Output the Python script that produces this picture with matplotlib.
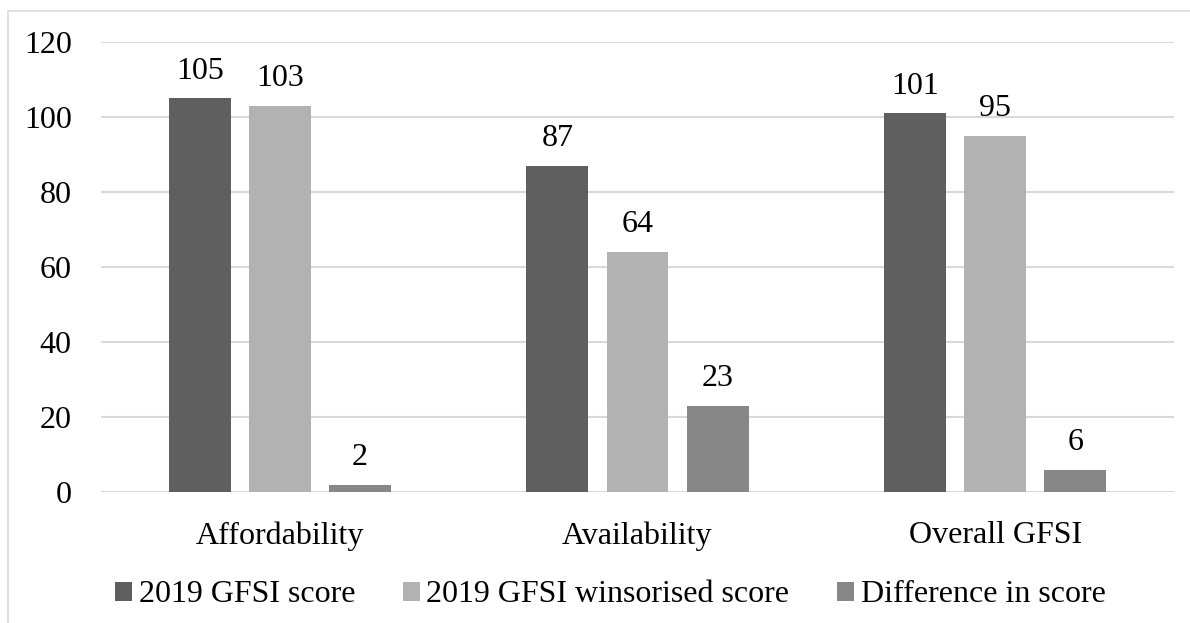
import matplotlib
matplotlib.use("Agg")
import matplotlib.pyplot as plt
import numpy as np
from matplotlib.patches import Rectangle, Patch

plt.rcParams['font.family'] = ['Liberation Serif', 'DejaVu Serif']

categories = ["Affordability", "Availability", "Overall GFSI"]
series_names = ["2019 GFSI score", "2019 GFSI winsorised score", "Difference in score"]
gfsi_score = [105, 87, 101]
winsorised_score = [103, 64, 95]
difference = [2, 23, 6]
y_ticks = [0, 20, 40, 60, 80, 100, 120]

colors = ["#5f5f5f", "#b2b2b2", "#878787"]
values = [gfsi_score, winsorised_score, difference]

fig = plt.figure(figsize=(11.9, 6.23), dpi=100)
ax = fig.add_axes([101 / 1190, 1 - 492 / 623, (1174 - 101) / 1190, (492 - 42) / 623])

x = np.arange(len(categories))
width = 0.173
offsets = [-0.224, 0.0, 0.224]
fs = 23

for vals, off, col in zip(values, offsets, colors):
    bars = ax.bar(x + off, vals, width=width, color=col, zorder=3)
    for b, v in zip(bars, vals):
        ax.annotate(str(v), (b.get_x() + b.get_width() / 2, v),
                    xytext=(0, 9), textcoords="offset points",
                    ha="center", va="bottom", fontsize=fs, color="#000000")

ax.set_xlim(-0.5, len(categories) - 0.5)
ax.set_ylim(0, 120)
ax.set_yticks(y_ticks)
ax.set_xticks(x)
ax.set_xticklabels(categories)
ax.tick_params(axis="both", length=0, labelsize=fs, colors="#000000")
ax.tick_params(axis="y", pad=21)
ax.tick_params(axis="x", pad=21)
ax.grid(axis="y", color="#d9d9d9", linewidth=1.5, zorder=0)
for s in ax.spines.values():
    s.set_visible(False)

# outer chart frame
fig.patches.append(Rectangle((8 / 1190, -0.1), 1.2, 1 - 11 / 623 + 0.1,
                             transform=fig.transFigure, fill=False,
                             edgecolor="#d9d9d9", linewidth=1.2))

handles = [Patch(facecolor=c, edgecolor="none") for c in colors]
fig.legend(handles, series_names, loc="center", bbox_to_anchor=(0.513, 1 - 595 / 623),
           ncol=3, frameon=False, fontsize=fs, handlelength=0.53, handleheight=0.53,
           handletextpad=0.2, columnspacing=1.5, borderpad=0, borderaxespad=0)

fig.savefig("out.png", dpi=100)
